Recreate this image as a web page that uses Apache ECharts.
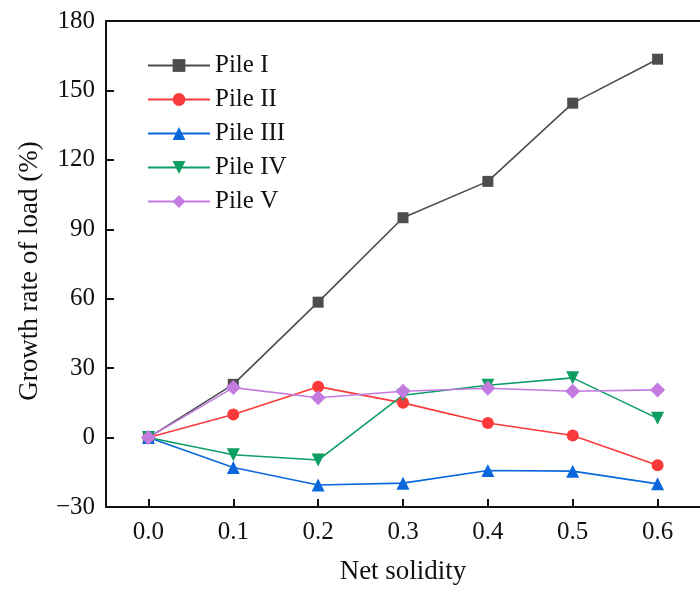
<!DOCTYPE html>
<html>
<head>
<meta charset="utf-8">
<script src="https://cdn.jsdelivr.net/npm/echarts@6/dist/echarts.min.js"></script>
<style>
html,body{margin:0;padding:0;background:#fff;}
#chart{width:700px;height:590px;}
</style>
</head>
<body>
<div id="chart"></div>
<script>
const xValues = [0.0, 0.1, 0.2, 0.3, 0.4, 0.5, 0.6];
const pileI   = [0, 23, 58.5, 95, 110.7, 144.5, 163.5];
const pileII  = [0, 10, 22, 15, 6.3, 0.9, -12];
const pileIII = [0, -12.9, -20.5, -19.7, -14.2, -14.5, -20];
const pileIV  = [0, -7.4, -9.7, 18.3, 22.6, 25.8, 8.3];
const pileV   = [0, 21.6, 17.2, 20, 21.3, 20, 20.6];
const seriesNames = ['Pile I', 'Pile II', 'Pile III', 'Pile IV', 'Pile V'];
const yTicks = [-30, 0, 30, 60, 90, 120, 150, 180];

const font = 'Liberation Serif';
const pairs = arr => xValues.map((x, i) => [x, arr[i]]);

const styles = [
  {color:'#4d4d4d', symbol:'rect', size:11, rot:0},
  {color:'#fa3a3a', symbol:'circle', size:12, rot:0},
  {color:'#0a68dc', symbol:'triangle', size:13, rot:0},
  {color:'#0c9e62', symbol:'triangle', size:13, rot:180},
  {color:'#c47be0', symbol:'diamond', size:15, rot:0}
];
const data = [pileI, pileII, pileIII, pileIV, pileV];

const chart = echarts.init(document.getElementById('chart'), null, {renderer:'canvas'});
chart.setOption({
  animation: false,
  backgroundColor: '#ffffff',
  grid: {left: 106, top: 21, bottom: 81, right: -10, containLabel: false},
  legend: {
    orient: 'vertical',
    left: 147,
    top: 53,
    padding: 0,
    itemWidth: 62,
    itemHeight: 16,
    itemGap: 9,
    textStyle: {fontFamily: font, fontSize: 25, color: '#111'},
    data: seriesNames
  },
  xAxis: [{
    type: 'value',
    min: -0.05,
    max: 0.65,
    name: 'Net solidity',
    nameLocation: 'middle',
    nameGap: 51,
    nameTextStyle: {fontFamily: font, fontSize: 27, color: '#111'},
    axisLine: {show: true, onZero: false, lineStyle: {color: '#111', width: 2}},
    axisTick: {show: true, inside: true, length: 8, lineStyle: {width: 2, color:'#111'}, customValues: xValues},
    axisLabel: {fontFamily: font, fontSize: 25, color: '#111', margin: 13, customValues: xValues,
      formatter: v => v.toFixed(1)},
    splitLine: {show: false}
  }, {
    type: 'value',
    position: 'top',
    min: -0.05,
    max: 0.65,
    axisLine: {show: true, onZero: false, lineStyle: {color: '#111', width: 2}},
    axisTick: {show: false},
    axisLabel: {show: false},
    splitLine: {show: false}
  }],
  yAxis: {
    type: 'value',
    min: yTicks[0],
    max: yTicks[yTicks.length - 1],
    interval: 30,
    name: 'Growth rate of load (%)',
    nameLocation: 'middle',
    nameGap: 63,
    nameTextStyle: {fontFamily: font, fontSize: 27, color: '#111', padding: [0, 14, 0, 0]},
    axisLine: {show: true, onZero: false, lineStyle: {color: '#111', width: 2}},
    axisTick: {show: true, inside: true, length: 8, lineStyle: {width: 2, color:'#111'}},
    axisLabel: {fontFamily: font, fontSize: 25, color: '#111', margin: 11,
      formatter: v => (v < 0 ? '\u2212' + Math.abs(v) : String(v))},
    splitLine: {show: false}
  },
  series: data.map((arr, i) => ({
    name: seriesNames[i],
    type: 'line',
    data: pairs(arr),
    symbol: styles[i].symbol,
    symbolSize: styles[i].size,
    symbolRotate: styles[i].rot,
    showAllSymbol: true,
    lineStyle: {color: styles[i].color, width: 1.6},
    itemStyle: {color: styles[i].color, borderWidth: 0}
  }))
});
</script>
</body>
</html>
